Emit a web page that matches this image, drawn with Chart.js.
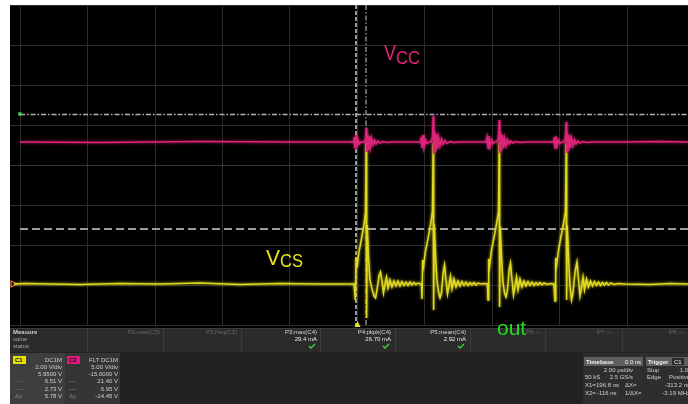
<!DOCTYPE html>
<html><head><meta charset="utf-8">
<script src="https://cdn.jsdelivr.net/npm/chart.js@4/dist/chart.umd.min.js"></script>
<style>html,body{margin:0;padding:0;background:#fff;overflow:hidden}canvas{display:block}</style>
</head><body>
<canvas id="c" width="688" height="404"></canvas>
<script>
// ---- grid (2 µs/div horizontally, divisions vertically) ----
const timeGrid = [-10,-8,-6,-4,-2,0,2,4,6,8,10];
const divGrid = [-4,-3,-2,-1,0,1,2,3,4];

// ---- Vcs (C1, yellow) trace, [time µs, divisions] ----
const vcsBaseline = [[-10.18,-2.975],[-9.85,-2.96],[-8.22,-2.99],[-7.04,-2.96],[-5.85,-2.975],[-4.67,-2.95],[-3.48,-2.99],[-2.30,-2.96],[-1.11,-2.975],[-0.10,-2.975]];
const vcsPulse1 = [[-0.089,-2.975],[-0.065,-3.375],[-0.039,-2.325],[-0.015,-2.575],[0.044,-2.175],[0.133,-1.775],[0.193,-1.475],[0.237,-1.2],[0.258,0.55],[0.270,-3.825],[0.287,-1.5],[0.326,-2.325],[0.370,-2.875],[0.430,-3.1],[0.489,-3.275],[0.533,-3.325],[0.578,-3.125],[0.637,-2.775],[0.681,-2.675],[0.726,-2.9],[0.770,-3.2],[0.815,-2.975],[0.859,-2.8],[0.904,-3.075],[0.963,-2.875],[1.022,-3.05],[1.081,-2.9],[1.141,-3.025],[1.200,-2.9],[1.259,-3.025],[1.319,-2.9125],[1.378,-3.0125],[1.437,-2.925],[1.496,-3.0125],[1.556,-2.925],[1.615,-3.0],[1.674,-2.9375],[1.733,-2.9875],[1.793,-2.95],[1.881,-2.975]];
const vcsPulse2 = [[1.896,-2.975],[1.911,-3.35],[1.932,-2.375],[1.956,-2.525],[2.015,-2.15],[2.104,-1.775],[2.178,-1.425],[2.222,-1.15],[2.243,0.55],[2.255,-3.625],[2.273,-1.475],[2.311,-2.275],[2.356,-2.9],[2.400,-3.175],[2.444,-3.325],[2.489,-3.2],[2.533,-2.725],[2.578,-2.5],[2.622,-2.875],[2.667,-3.225],[2.711,-3.0],[2.756,-2.775],[2.800,-3.1],[2.859,-2.85],[2.919,-3.05],[2.978,-2.9],[3.037,-3.025],[3.096,-2.9125],[3.156,-3.0125],[3.215,-2.925],[3.274,-3.0125],[3.333,-2.9375],[3.393,-3.0],[3.452,-2.9375],[3.511,-3.0],[3.570,-2.95],[3.659,-2.975],[3.748,-2.9625],[3.852,-2.975]];
const vcsPulse3 = [[3.867,-3.375],[3.887,-2.35],[3.911,-2.55],[3.970,-2.125],[4.059,-1.75],[4.133,-1.4],[4.178,-1.175],[4.199,0.55],[4.210,-3.55],[4.228,-1.525],[4.267,-2.3],[4.311,-2.925],[4.356,-3.2],[4.400,-3.3],[4.444,-3.125],[4.489,-2.65],[4.533,-2.45],[4.578,-2.875],[4.622,-3.25],[4.667,-3.025],[4.711,-2.8],[4.756,-3.125],[4.815,-2.85],[4.874,-3.05],[4.933,-2.9],[4.993,-3.025],[5.052,-2.9125],[5.111,-3.0125],[5.170,-2.925],[5.230,-3.0125],[5.289,-2.9375],[5.348,-3.0],[5.407,-2.9375],[5.467,-3.0],[5.526,-2.95],[5.615,-2.9875],[5.704,-2.9625],[5.822,-2.975]];
const vcsPulse4 = [[5.852,-3.4],[5.873,-2.325],[5.896,-2.525],[5.956,-2.125],[6.044,-1.725],[6.119,-1.4],[6.163,-1.15],[6.184,0.55],[6.196,-3.375],[6.213,-1.5],[6.252,-2.275],[6.296,-3.025],[6.341,-3.375],[6.385,-3.2],[6.444,-2.675],[6.504,-2.425],[6.548,-2.85],[6.593,-3.275],[6.637,-3.05],[6.681,-2.8],[6.726,-3.125],[6.785,-2.85],[6.844,-3.05],[6.904,-2.9],[6.963,-3.025],[7.022,-2.9125],[7.081,-3.0125],[7.141,-2.925],[7.200,-3.0125],[7.259,-2.9375],[7.319,-3.0],[7.378,-2.9375],[7.437,-3.0],[7.511,-2.95],[7.600,-2.9875],[7.719,-2.9625]];
const vcsTail = [[7.926,-2.975],[8.667,-2.9875],[9.259,-2.9625],[9.793,-2.975]];

// ---- Vcc (C2, magenta) trace, [time µs, divisions] ----
const vccBaseline = [[-10,0.575],[-7.63,0.5625],[-4.67,0.5875],[-1.70,0.575]];
const vccBurst1 = [[-0.133,0.575],[-0.104,0.7],[-0.074,0.4],[-0.044,0.75],[-0.015,0.425],[0.015,0.625],[0.059,0.525],[0.104,0.575],[0.193,0.575],[0.237,0.65],[0.258,0.925],[0.276,0.325],[0.296,0.775],[0.326,0.375],[0.356,0.725],[0.385,0.45],[0.415,0.675],[0.459,0.5],[0.504,0.625],[0.548,0.525],[0.607,0.6],[0.667,0.55],[0.756,0.5875],[0.874,0.5625],[1.022,0.575]];
const vccBurst2 = [[1.852,0.575],[1.881,0.7],[1.911,0.425],[1.941,0.75],[1.970,0.45],[2.015,0.625],[2.059,0.5375],[2.119,0.575],[2.178,0.575],[2.222,0.7],[2.243,1.225],[2.261,0.275],[2.281,0.85],[2.311,0.325],[2.341,0.775],[2.370,0.4],[2.400,0.7],[2.444,0.475],[2.489,0.65],[2.533,0.5125],[2.593,0.6125],[2.652,0.5375],[2.741,0.5875],[2.859,0.5625],[3.037,0.575]];
const vccBurst3 = [[3.807,0.575],[3.837,0.7],[3.867,0.425],[3.896,0.725],[3.926,0.45],[3.970,0.625],[4.015,0.5375],[4.074,0.575],[4.133,0.575],[4.178,0.7],[4.199,1.125],[4.216,0.3],[4.237,0.825],[4.267,0.35],[4.296,0.75],[4.326,0.425],[4.356,0.675],[4.400,0.475],[4.444,0.6375],[4.489,0.525],[4.548,0.6],[4.607,0.55],[4.696,0.5875],[4.815,0.5625],[4.993,0.575]];
const vccBurst4 = [[5.793,0.575],[5.822,0.7],[5.852,0.425],[5.881,0.725],[5.911,0.475],[5.956,0.625],[6.0,0.5375],[6.059,0.575],[6.119,0.575],[6.163,0.7],[6.184,1.075],[6.201,0.3],[6.222,0.8],[6.252,0.35],[6.281,0.75],[6.311,0.425],[6.341,0.675],[6.385,0.475],[6.430,0.6375],[6.474,0.525],[6.533,0.6],[6.593,0.55],[6.681,0.5875],[6.800,0.5625],[6.978,0.575]];
const vccTail = [[7.778,0.575],[8.963,0.5875],[9.793,0.575]];

// ---- cursors ----
const hCursorDashDot = 1.275, hCursorDashed = -1.6;   // divisions
const vCursorDashed = -0.044, vCursorDashDot = 0.252; // µs

// ---- measurement & readout texts ----
const measureNames = ['P1:max(C5)','P2:freq(C1)','P3:max(C4)','P4:pkpk(C4)','P5:mean(C4)','P6:---','P7:---','P8:---'];
const measureValues = ['','','29.4 mA','26.70 mA','2.92 mA','','',''];
const measureOk = [false,false,true,true,true,false,false,false];
const c1Rows = ['2.00 V/div','5.9500 V','6.51 V','2.73 V','5.78 V'];
const c2Rows = ['5.00 V/div','-15.0000 V','21.40 V','6.95 V','-14.45 V'];

const toXY = arr => arr.map(([x,y]) => ({x, y}));
const vcsData = toXY([].concat(vcsBaseline, vcsPulse1, vcsPulse2, vcsPulse3, vcsPulse4, vcsTail));
const vccData = toXY([].concat(vccBaseline, vccBurst1, vccBurst2, vccBurst3, vccBurst4, vccTail));

const F = 'px "Liberation Sans", Arial, sans-serif';

const scope = {
  id: 'scope',
  beforeDraw(chart) {
    const ctx = chart.ctx;
    ctx.save();
    ctx.fillStyle = '#ffffff'; ctx.fillRect(0, 0, 688, 404);
    ctx.fillStyle = '#000000'; ctx.fillRect(10, 5, 678, 323);
    ctx.fillStyle = '#2b2b2b'; ctx.fillRect(10, 328, 678, 24);
    ctx.fillStyle = '#3a3a3a'; ctx.fillRect(10, 328, 678, 1);
    ctx.fillStyle = '#222222'; ctx.fillRect(10, 352, 678, 52);
    ctx.fillStyle = '#3e3e3e'; ctx.fillRect(10, 353, 55, 51);
    ctx.fillStyle = '#353535'; ctx.fillRect(65, 353, 55, 51);
    ctx.fillStyle = '#2e2e2e'; ctx.fillRect(583, 353, 105, 51);
    ctx.restore();
  },
  beforeDatasetsDraw(chart) {
    const ctx = chart.ctx, a = chart.chartArea, xs = chart.scales.x, ys = chart.scales.y;
    ctx.save();
    let y0 = Math.round(ys.getPixelForValue(0)) + 0.5;
    ctx.strokeStyle = '#555555'; ctx.lineWidth = 1; ctx.setLineDash([1, 3]);
    ctx.beginPath(); ctx.moveTo(a.left, y0); ctx.lineTo(a.right, y0); ctx.stroke();
    let yc = Math.round(ys.getPixelForValue(hCursorDashDot)) + 0.5;
    ctx.strokeStyle = '#b0b0b0'; ctx.lineWidth = 1.3; ctx.setLineDash([5, 2, 1.5, 2]);
    ctx.beginPath(); ctx.moveTo(xs.getPixelForValue(-10), yc); ctx.lineTo(a.right, yc); ctx.stroke();
    yc = Math.round(ys.getPixelForValue(hCursorDashed));
    ctx.strokeStyle = '#9c9c9c'; ctx.lineWidth = 2; ctx.setLineDash([8, 4]);
    ctx.beginPath(); ctx.moveTo(xs.getPixelForValue(-10), yc); ctx.lineTo(a.right, yc); ctx.stroke();
    let xc = xs.getPixelForValue(vCursorDashed);
    ctx.strokeStyle = '#c0c0c0'; ctx.lineWidth = 1.6; ctx.setLineDash([4, 2]);
    ctx.beginPath(); ctx.moveTo(xc, a.top); ctx.lineTo(xc, a.bottom + 2); ctx.stroke();
    xc = xs.getPixelForValue(vCursorDashDot);
    ctx.strokeStyle = '#a8a8a8'; ctx.lineWidth = 1.2; ctx.setLineDash([5, 2, 1.5, 2]);
    ctx.beginPath(); ctx.moveTo(xc, a.top); ctx.lineTo(xc, a.bottom + 2); ctx.stroke();
    ctx.setLineDash([]);
    ctx.fillStyle = '#3fcf4f';
    ctx.beginPath(); ctx.arc(xs.getPixelForValue(-10), ys.getPixelForValue(hCursorDashDot), 2, 0, Math.PI * 2); ctx.fill();
    const yg = ys.getPixelForValue(-2.975);
    ctx.strokeStyle = '#e0703a'; ctx.lineWidth = 1.2;
    ctx.beginPath(); ctx.moveTo(11, yg - 3); ctx.lineTo(17, yg); ctx.lineTo(11, yg + 3); ctx.closePath(); ctx.stroke();
    const xt = xs.getPixelForValue(0);
    ctx.fillStyle = '#e8e030';
    ctx.beginPath(); ctx.moveTo(xt - 3, a.bottom + 2); ctx.lineTo(xt + 3, a.bottom + 2); ctx.lineTo(xt, a.bottom - 4); ctx.closePath(); ctx.fill();
    ctx.restore();
  },
  beforeDatasetDraw(chart, args) {
    const ctx = chart.ctx;
    ctx.save();
    ctx.shadowColor = args.meta.dataset.options.borderColor;
    ctx.shadowBlur = 3;
  },
  afterDatasetDraw(chart) {
    chart.ctx.restore();
  },
  afterDraw(chart) {
    const ctx = chart.ctx;
    ctx.save();
    ctx.textBaseline = 'alphabetic';
    ctx.fillStyle = '#e8207f';
    ctx.font = '22' + F; ctx.textAlign = 'left';
    ctx.fillText('V', 384, 60, 12);
    ctx.font = '18' + F; ctx.fillText('CC', 396, 64, 24);
    ctx.fillStyle = '#ece41c';
    ctx.font = '22' + F; ctx.fillText('V', 266, 265, 14);
    ctx.font = '18' + F; ctx.fillText('CS', 280, 267, 23);
    ctx.fillStyle = '#22dd22';
    ctx.font = '21' + F; ctx.fillText('out', 497, 335, 31);

    ctx.font = 'bold 6' + F; ctx.fillStyle = '#cfcfcf';
    ctx.fillText('Measure', 13, 334);
    ctx.font = '6' + F; ctx.fillStyle = '#a0a0a0';
    ctx.fillText('value', 13, 341);
    ctx.fillText('status', 13, 348);
    const colRight = [160, 237, 317, 391, 466, 541, 612, 684];
    ctx.strokeStyle = '#3c3c3c'; ctx.lineWidth = 1;
    [87, 163, 241, 320, 395, 470, 545, 622].forEach(x => { ctx.beginPath(); ctx.moveTo(x + 0.5, 329); ctx.lineTo(x + 0.5, 352); ctx.stroke(); });
    ctx.textAlign = 'right';
    measureNames.forEach((n, i) => {
      const x = colRight[i];
      ctx.fillStyle = measureOk[i] ? '#d8d8d8' : '#6a6a6a';
      ctx.font = '6' + F; ctx.fillText(n, x, 334);
      if (measureValues[i]) { ctx.fillStyle = '#eeeeee'; ctx.fillText(measureValues[i], x, 341); }
      if (measureOk[i]) {
        ctx.strokeStyle = '#3ccf3c'; ctx.lineWidth = 1.5;
        ctx.beginPath(); ctx.moveTo(x - 8, 346); ctx.lineTo(x - 6, 348); ctx.lineTo(x - 2, 344); ctx.stroke();
      }
    });

    ctx.fillStyle = '#e6e000'; ctx.fillRect(13, 356, 13, 8);
    ctx.fillStyle = '#111'; ctx.font = 'bold 6' + F; ctx.textAlign = 'left'; ctx.fillText('C1', 15, 362);
    ctx.fillStyle = '#e0197d'; ctx.fillRect(67, 356, 13, 8);
    ctx.fillStyle = '#111'; ctx.fillText('C2', 69, 362);
    ctx.font = '6' + F; ctx.textAlign = 'right'; ctx.fillStyle = '#cfcfcf';
    ctx.fillText('DC1M', 62, 362);
    ctx.fillText('FLT DC1M', 118, 362);
    c1Rows.forEach((t, i) => ctx.fillText(t, 62, 369 + i * 7.2));
    c2Rows.forEach((t, i) => ctx.fillText(t, 118, 369 + i * 7.2));
    ctx.textAlign = 'left'; ctx.fillStyle = '#8a8a8a';
    ctx.fillText('- - -', 15, 383.4); ctx.fillText('----', 15, 390.6); ctx.fillText('\u0394y', 15, 397.8);
    ctx.fillText('\u2014', 69, 383.4); ctx.fillText('----', 69, 390.6); ctx.fillText('\u0394y', 69, 397.8);

    ctx.fillStyle = '#5e5e5e'; ctx.fillRect(584, 357, 59, 9); ctx.fillRect(646, 357, 42, 9);
    ctx.fillStyle = '#2a2a2a'; ctx.fillRect(672, 358, 12, 7);
    ctx.font = 'bold 6' + F; ctx.fillStyle = '#f0f0f0'; ctx.textAlign = 'left';
    ctx.fillText('Timebase', 586, 364); ctx.fillText('Trigger', 648, 364);
    ctx.font = '6' + F; ctx.fillText('C1', 674, 364);
    ctx.textAlign = 'right'; ctx.fillText('0.0 ns', 641, 364);
    ctx.fillStyle = '#d0d0d0';
    ctx.fillText('2.00 \u00b5s/div', 633, 372); ctx.fillText('1.0', 688, 372);
    ctx.fillText('2.5 GS/s', 633, 379); ctx.fillText('Positive', 690, 379);
    ctx.fillText('-313.2 ns', 690, 387); ctx.fillText('-3.19 MHz', 690, 395);
    ctx.textAlign = 'left';
    ctx.fillText('196.8 ns', 596, 387); ctx.fillText('-116 ns', 597, 395);
    ctx.fillText('Stop', 647, 372); ctx.fillText('50 kS', 585, 379); ctx.fillText('Edge', 647, 379);
    ctx.fillText('X1=', 585, 387); ctx.fillText('\u0394X=', 625, 387);
    ctx.fillText('X2=', 585, 395); ctx.fillText('1/\u0394X=', 625, 395);
    ctx.restore();
  }
};

new Chart(document.getElementById('c'), {
  type: 'line',
  data: {
    datasets: [
      { label: 'Vcc', data: vccData, borderColor: '#dc2479', borderWidth: 1.5, pointRadius: 0, tension: 0, fill: false },
      { label: 'Vcs', data: vcsData, borderColor: '#e0d920', borderWidth: 1.5, pointRadius: 0, tension: 0, fill: false }
    ]
  },
  options: {
    responsive: false,
    animation: false,
    events: [],
    layout: { padding: { left: 10, right: 0, top: 5, bottom: 79 } },
    plugins: { legend: { display: false }, tooltip: { enabled: false }, title: { display: false } },
    scales: {
      x: {
        type: 'linear', min: -10.2963, max: 9.7926,
        afterBuildTicks: s => { s.ticks = timeGrid.map(v => ({ value: v })); },
        ticks: { display: false },
        grid: { color: '#2c2c2c', lineWidth: 1, drawTicks: false },
        border: { display: false }
      },
      y: {
        type: 'linear', min: -4, max: 4,
        afterBuildTicks: s => { s.ticks = divGrid.map(v => ({ value: v })); },
        ticks: { display: false },
        grid: { color: '#2c2c2c', lineWidth: 1, drawTicks: false },
        border: { display: false }
      }
    }
  },
  plugins: [scope]
});
</script>
</body></html>
